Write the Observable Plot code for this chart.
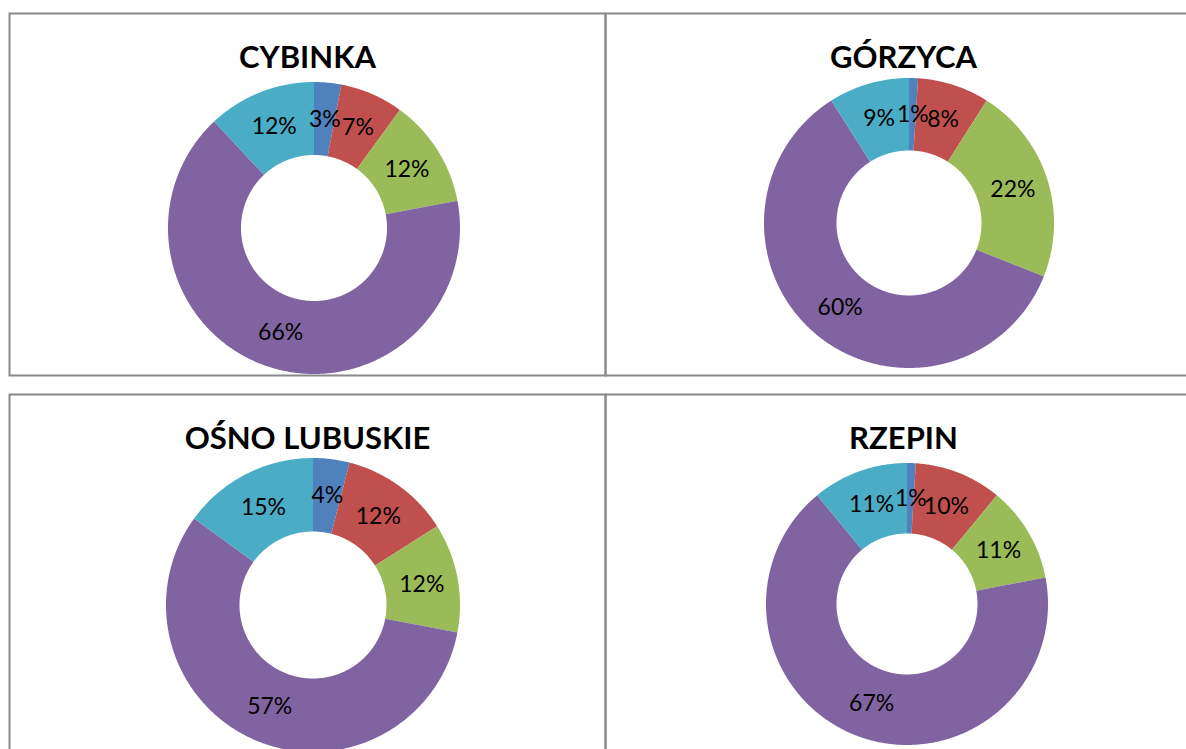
<!DOCTYPE html>
<html>
<head>
<meta charset="utf-8">
<script src="https://cdn.jsdelivr.net/npm/d3@7"></script>
<script src="https://cdn.jsdelivr.net/npm/@observablehq/plot@0.6"></script>
<style>
html, body { margin: 0; padding: 0; background: #fff; overflow: hidden; }
#chart { width: 1186px; height: 749px; overflow: hidden; }
#chart svg { display: block; max-width: none !important; height: auto; }
</style>
</head>
<body>
<div id="chart"></div>
<script>
// ---- data ----
const towns = ["CYBINKA", "GÓRZYCA", "OŚNO LUBUSKIE", "RZEPIN"];
const categories = ["Kategoria 1", "Kategoria 2", "Kategoria 3", "Kategoria 4", "Kategoria 5"];
const cybinka = [3, 7, 12, 66, 12];
const gorzyca = [1, 8, 22, 60, 9];
const osno = [4, 12, 12, 57, 15];
const rzepin = [1, 10, 11, 67, 11];
const colors = ["#4F81BD", "#C0504D", "#9BBB59", "#8064A2", "#4BACC6"];
const gridCol = ["L", "R", "L", "R"];
const gridRow = ["T", "T", "B", "B"];

// ---- layout (px) ----
const PANEL_W = 596, PANEL_H = 362, GAP = 19;
const CX = 304, CY = 211;              // base donut centre inside a panel
const ringR = [146, 145, 147, 141];    // outer radius per donut
const ringDX = [1, 0, 0, -2];          // centre shift per donut
const ringDY = [4, -1, 0, -1];
const INNER = 0.5;                     // inner radius / outer radius

const series = [cybinka, gorzyca, osno, rzepin];
const arcPts = [];
const labels = [];
towns.forEach((town, k) => {
  const vals = series[k];
  const total = d3.sum(vals);
  const R = ringR[k], ox = ringDX[k], oy = -ringDY[k];
  let acc = 0;
  vals.forEach((v, i) => {
    const a0 = acc / total * 2 * Math.PI;
    const a1 = (acc + v) / total * 2 * Math.PI;
    acc += v;
    const n = Math.max(2, Math.ceil((a1 - a0) / (Math.PI / 360)) + 1);
    for (let j = 0; j < n; j++) {
      const a = a0 + (a1 - a0) * j / (n - 1);
      arcPts.push({
        key: town + "|" + i, cat: categories[i], col: gridCol[k], row: gridRow[k],
        x1: ox + R * Math.sin(a), y1: oy + R * Math.cos(a),
        x2: ox + INNER * R * Math.sin(a), y2: oy + INNER * R * Math.cos(a)
      });
    }
    const am = (a0 + a1) / 2, rm = R * (1 + INNER) / 2;
    labels.push({col: gridCol[k], row: gridRow[k], x: ox + rm * Math.sin(am), y: oy + rm * Math.cos(am), text: v + "%"});
  });
});
const titles = towns.map((t, k) => ({town: t, col: gridCol[k], row: gridRow[k]}));

const plot = Plot.plot({
  width: 9 + 2 * PANEL_W + 10,
  height: 13 + 2 * PANEL_H + GAP + 10,
  marginLeft: 9, marginRight: 10, marginTop: 13, marginBottom: 10,
  fx: {domain: ["L", "R"], axis: null, padding: 0, round: false},
  fy: {domain: ["T", "B"], axis: null, paddingInner: GAP / (PANEL_H + GAP), paddingOuter: 0, round: false},
  x: {domain: [-CX, PANEL_W - CX], axis: null},
  y: {domain: [-(PANEL_H - CY), CY], axis: null},
  color: {domain: categories, range: colors},
  style: {fontFamily: "Lato, 'Open Sans', sans-serif", background: "white", overflow: "hidden"},
  marks: [
    Plot.area(arcPts, {x1: "x1", y1: "y1", x2: "x2", y2: "y2", z: "key", fill: "cat", fx: "col", fy: "row", curve: "linear"}),
    Plot.text(labels, {x: "x", y: "y", text: "text", fx: "col", fy: "row", fontSize: 23, fill: "black"}),
    Plot.text(titles, {text: "town", fx: "col", fy: "row", frameAnchor: "top", lineAnchor: "middle", dy: 45, fontSize: 31, fontWeight: "bold", fill: "black"}),
    Plot.frame({stroke: "#898989", strokeWidth: 2})
  ]
});
document.getElementById("chart").appendChild(plot);
</script>
</body>
</html>
